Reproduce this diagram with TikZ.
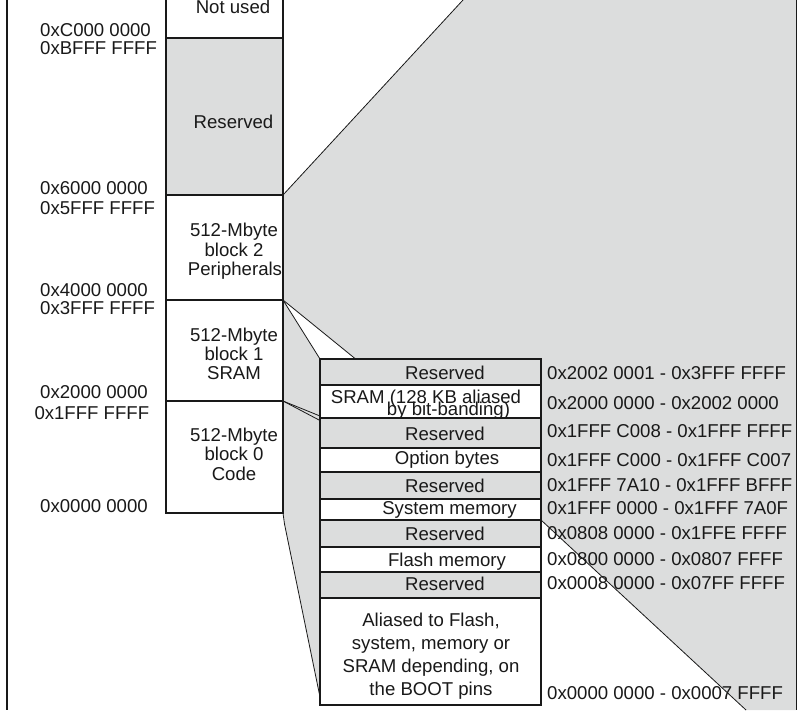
\documentclass[tikz,border=0pt]{standalone}
\usepackage{fontspec}
\setmainfont{Liberation Sans}
\usetikzlibrary{backgrounds}
\definecolor{graybg}{RGB}{220,221,221}
\definecolor{ink}{RGB}{25,25,25}
\begin{document}
\begin{tikzpicture}[x=1pt,y=-1pt,
  box/.style={draw=ink,line width=1.6pt,inner sep=0pt,outer sep=0pt},
  gbox/.style={box,fill=graybg},
  wbox/.style={box,fill=white},
  lbl/.style={text=ink,inner sep=0pt,anchor=base,font=\fontsize{18.6}{20}\selectfont},
  addr/.style={lbl,anchor=base west},
  thinline/.style={draw=ink,line width=0.8pt},
  frameline/.style={draw=ink,line width=1.6pt}]
\useasboundingbox (0,0) rectangle (798,710);

% ---- main column ----
\node[wbox,minimum width=117pt,minimum height=48pt]  (nu) at (224.5,14) {};
\node[gbox,minimum width=117pt,minimum height=157pt] (rs) at (224.5,116.5) {};
\node[wbox,minimum width=117pt,minimum height=105pt] (b2) at (224.5,247.5) {};
\node[wbox,minimum width=117pt,minimum height=101pt] (b1) at (224.5,350.5) {};
\node[wbox,minimum width=117pt,minimum height=112pt] (b0) at (224.5,457) {};

\node[lbl] (tnu) at (233,13.5) {Not used};
\node[lbl] (trs) at (233.5,128) {Reserved};
\node[lbl] (t2a) at (234,236.5) {512-Mbyte};
\node[lbl] (t2b) at (234,256) {block 2};
\node[lbl] (t2c) at (235,275.5) {Peripherals};
\node[lbl] (t1a) at (234,341.5) {512-Mbyte};
\node[lbl] (t1b) at (234,360.5) {block 1};
\node[lbl] (t1c) at (234,379) {SRAM};
\node[lbl] (t0a) at (234,441) {512-Mbyte};
\node[lbl] (t0b) at (234,460.5) {block 0};
\node[lbl] (t0c) at (234,480) {Code};

% ---- left addresses ----
\node[addr] (aC) at (40,36.7) {0xC000 0000};
\node[addr] (aB) at (40,54) {0xBFFF FFFF};
\node[addr] (a6) at (40,194) {0x6000 0000};
\node[addr] (a5) at (40,214.3) {0x5FFF FFFF};
\node[addr] (a4) at (40,296.7) {0x4000 0000};
\node[addr] (a3) at (40,314) {0x3FFF FFFF};
\node[addr] (a2) at (40,398.3) {0x2000 0000};
\node[addr] (a1) at (34.3,419.3) {0x1FFF FFFF};
\node[addr] (a0) at (40,512.7) {0x0000 0000};

% ---- detail box ----
\node[gbox,minimum width=221pt,minimum height=26pt]  (d1)  at (430.5,372) {};
\node[wbox,minimum width=221pt,minimum height=33pt]  (d2)  at (430.5,401.5) {};
\node[gbox,minimum width=221pt,minimum height=30pt]  (d3)  at (430.5,433) {};
\node[wbox,minimum width=221pt,minimum height=24pt]  (d4)  at (430.5,460) {};
\node[gbox,minimum width=221pt,minimum height=27pt]  (d5)  at (430.5,485.5) {};
\node[wbox,minimum width=221pt,minimum height=21pt]  (d6)  at (430.5,509.5) {};
\node[gbox,minimum width=221pt,minimum height=27pt]  (d7)  at (430.5,533.5) {};
\node[wbox,minimum width=221pt,minimum height=25pt]  (d8)  at (430.5,559.5) {};
\node[gbox,minimum width=221pt,minimum height=26pt]  (d9)  at (430.5,585) {};
\node[wbox,minimum width=221pt,minimum height=107pt] (d10) at (430.5,651.5) {};

\node[lbl] (s1)  at (445,379.3) {Reserved};
\node[lbl] (s2a) at (426,403.3) {SRAM (128 KB aliased};
\node[lbl] (s2b) at (448.5,415) {by bit-banding)};
\node[lbl] (s3)  at (445,440) {Reserved};
\node[lbl] (s4)  at (447,464) {Option bytes};
\node[lbl] (s5)  at (445,492.7) {Reserved};
\node[lbl] (s6)  at (449.5,514) {System memory};
\node[lbl] (s7)  at (445,540.7) {Reserved};
\node[lbl] (s8)  at (447,566) {Flash memory};
\node[lbl] (s9)  at (445,590.7) {Reserved};
\node[lbl] (s10a) at (431,626) {Aliased to Flash,};
\node[lbl] (s10b) at (431,649.2) {system, memory or};
\node[lbl] (s10c) at (431,672.5) {SRAM depending, on};
\node[lbl] (s10d) at (431,695.7) {the BOOT pins};

% ---- right addresses ----
\node[addr] (r1)  at (547,379) {0x2002 0001 - 0x3FFF FFFF};
\node[addr] (r2)  at (547,409) {0x2000 0000 - 0x2002 0000};
\node[addr] (r3)  at (547,437.7) {0x1FFF C008 - 0x1FFF FFFF};
\node[addr] (r4)  at (547,466) {0x1FFF C000 - 0x1FFF C007};
\node[addr] (r5)  at (547,491.7) {0x1FFF 7A10 - 0x1FFF BFFF};
\node[addr] (r6)  at (547,514.3) {0x1FFF 0000 - 0x1FFF 7A0F};
\node[addr] (r7)  at (547,539) {0x0808 0000 - 0x1FFE FFFF};
\node[addr] (r8)  at (547,565.7) {0x0800 0000 - 0x0807 FFFF};
\node[addr] (r9)  at (547,589) {0x0008 0000 - 0x07FF FFFF};
\node[addr] (r10) at (547,699) {0x0000 0000 - 0x0007 FFFF};

% ---- free ends ----
\coordinate (topc) at (463,0);
\coordinate (botc) at (746,710);
\coordinate (wt)   at (355,358.5);
\coordinate (lk)   at (284.5,524);
\coordinate (lc)   at (320,697);
\coordinate (sa)   at (320,416);
\coordinate (sb)   at (320,420.5);

\begin{scope}[on background layer]
  \fill[graybg] (b2.north east) -- (topc) -- (796,0) -- (796,710) -- (botc)
    -- (d7.north east) -- (d7.north west) -- (lc) -- (lk) -- (b0.south east) -- cycle;
  \fill[white] (b1.north east) -- (d1.north west) -- (wt) -- cycle;
  \draw[thinline] (b2.north east) -- (topc);
  \draw[thinline] (d7.north east) -- (botc);
  \draw[thinline] (b0.south east) -- (lk) -- (lc);
  \draw[thinline] (b1.north east) -- (d1.north west);
  \draw[thinline] (b1.north east) -- (wt);
  \draw[thinline] (b0.north east) -- (sa);
  \draw[thinline] (b0.north east) -- (sb);
\end{scope}

% frame lines
\draw[frameline] (7,0) -- (7,710);
\draw[frameline] (796.5,0) -- (796.5,710);
\end{tikzpicture}
\end{document}
